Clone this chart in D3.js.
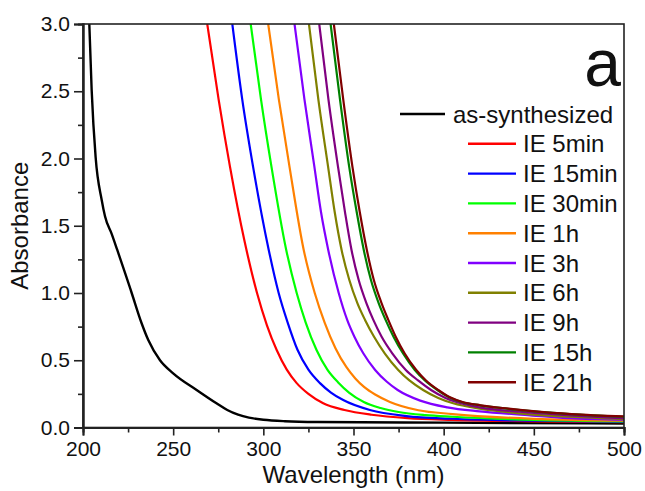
<!DOCTYPE html>
<html>
<head>
<meta charset="utf-8">
<script src="https://cdn.jsdelivr.net/npm/d3@7"></script>
<style>
  html, body { margin: 0; padding: 0; background: #fff; }
  svg { display: block; font-family: "Liberation Sans", Arial, sans-serif; }
</style>
</head>
<body>
<svg id="chart" width="645" height="491"></svg>
<script>
// ---- data (wavelength nm, absorbance) ----
const seriesNames = ["as-synthesized", "IE 5min", "IE 15min", "IE 30min", "IE 1h", "IE 3h", "IE 6h", "IE 9h", "IE 15h", "IE 21h"];
const seriesColors = ["#000000", "#ff0000", "#0000ff", "#00ff00", "#ff8000", "#8000ff", "#808000", "#800080", "#008000", "#800000"];

const asSynthesized = [[203.5,3.0],[204.8,2.51],[207.0,2.01],[210.4,1.69],[212.2,1.57],[215.9,1.44],[219.0,1.32],[223.3,1.15],[227.0,1.0],[232.5,0.775],[236.2,0.65],[242.7,0.5],[250.0,0.403],[263.0,0.279],[274.0,0.18],[280,0.13],[286,0.095],[292,0.073],[300,0.058],[312,0.047],[330,0.041],[400,0.036],[500,0.03]];
const ie5min  = [[268.9,3.0],[275.2,2.44],[281.5,1.94],[289.5,1.39],[296.5,1.0],[302,0.76],[307.4,0.576],[313,0.43],[318.5,0.33],[325,0.25],[333.2,0.18],[345,0.13],[360,0.095],[380,0.07],[405,0.057],[450,0.046],[500,0.04]];
const ie15min = [[282.8,3.0],[288.3,2.44],[294.3,1.94],[303,1.32],[308.5,1.0],[313.5,0.78],[319,0.576],[325,0.43],[331.4,0.33],[337.5,0.26],[344.3,0.204],[359.1,0.13],[379.4,0.085],[405,0.065],[450,0.05],[500,0.042]];
const ie30min = [[293.0,3.0],[298.7,2.44],[304.5,1.94],[312.7,1.32],[318.5,1.0],[323.5,0.78],[329.5,0.576],[335.5,0.43],[341.5,0.335],[347.5,0.26],[355.7,0.19],[365,0.145],[375,0.115],[390,0.092],[405,0.08],[450,0.056],[500,0.045]];
const ie1h    = [[302.7,3.0],[308.6,2.44],[314.5,1.94],[322.4,1.32],[328.5,1.0],[334,0.78],[340,0.59],[346,0.45],[351,0.365],[356,0.3],[362,0.245],[370.2,0.19],[386,0.128],[405,0.1],[450,0.064],[500,0.05]];
const ie3h    = [[317.3,3.0],[322.8,2.44],[328.3,1.94],[332.0,1.6],[336.0,1.32],[341.8,1.0],[346.5,0.8],[350.5,0.675],[355.5,0.55],[362,0.428],[368.5,0.34],[374.5,0.279],[387,0.2],[402,0.15],[420,0.12],[445,0.093],[470,0.07],[500,0.058]];
const ie6h    = [[325.3,3.0],[330.5,2.44],[335.9,1.94],[339.6,1.6],[343.4,1.32],[347.6,1.1],[352.2,0.923],[356.4,0.8],[361.4,0.675],[367.4,0.55],[374.8,0.428],[381,0.35],[388.6,0.279],[397,0.22],[405.3,0.18],[420,0.14],[442,0.105],[470,0.08],[500,0.062]];
const ie9h    = [[331.0,3.0],[336.1,2.44],[341.4,1.94],[345.3,1.6],[348.9,1.32],[352.8,1.1],[357.2,0.923],[361.0,0.8],[365.6,0.675],[371.6,0.55],[379.0,0.428],[385.8,0.35],[393,0.279],[401,0.22],[407.1,0.19],[420,0.15],[442,0.117],[470,0.09],[500,0.068]];
const ie15h   = [[337.3,3.0],[342.5,2.44],[347.6,1.94],[351.8,1.6],[355.7,1.32],[359.6,1.1],[364.0,0.923],[367.8,0.8],[372.2,0.675],[377.5,0.55],[384.0,0.428],[389.6,0.35],[396.5,0.279],[403,0.225],[410,0.19],[420,0.165],[435,0.14],[450,0.12],[470,0.1],[500,0.08]];
const ie21h   = [[339.1,3.0],[344.3,2.44],[349.4,1.94],[353.5,1.6],[357.4,1.32],[361.2,1.1],[365.6,0.923],[369.3,0.8],[373.4,0.675],[378.4,0.55],[384.8,0.428],[390.2,0.35],[397,0.279],[403.5,0.225],[410.5,0.19],[420.5,0.165],[436,0.14],[451,0.12],[471,0.1],[500,0.082]];

const xMajorTicks = [200, 250, 300, 350, 400, 450, 500];
const xTickLabels = ["200", "250", "300", "350", "400", "450", "500"];
const xMinorTicks = [225, 275, 325, 375, 425, 475];
const yMajorTicks = [0, 0.5, 1.0, 1.5, 2.0, 2.5, 3.0];
const yTickLabels = ["0.0", "0.5", "1.0", "1.5", "2.0", "2.5", "3.0"];
const yMinorTicks = [0.25, 0.75, 1.25, 1.75, 2.25, 2.75];

const allSeries = [asSynthesized, ie5min, ie15min, ie30min, ie1h, ie3h, ie6h, ie9h, ie15h, ie21h];

// ---- layout ----
const svg = d3.select("#chart");
const L = 83, R = 624, T = 24, B = 427.5;
const x = d3.scaleLinear().domain([200, 500]).range([L, R]);
const y = d3.scaleLinear().domain([0, 3]).range([B, T]);

svg.append("defs").append("clipPath").attr("id", "plotclip")
  .append("rect").attr("x", L).attr("y", T).attr("width", R - L).attr("height", B - T);

// curves
const line = d3.line().x(d => x(d[0])).y(d => y(d[1])).curve(d3.curveMonotoneX);
const gLines = svg.append("g").attr("clip-path", "url(#plotclip)");
allSeries.forEach((s, i) => {
  gLines.append("path").datum(s)
    .attr("d", line)
    .attr("fill", "none")
    .attr("stroke", seriesColors[i])
    .attr("stroke-width", i === 0 ? 2.4 : 2.2)
    .attr("stroke-linejoin", "round");
});

// frame
svg.append("rect").attr("x", L).attr("y", T).attr("width", R - L).attr("height", B - T)
  .attr("fill", "none").attr("stroke", "#222").attr("stroke-width", 1.6);

// axes
const xAxis = d3.axisBottom(x).tickValues(xMajorTicks).tickSize(8).tickPadding(6)
  .tickFormat((d, i) => xTickLabels[i]);
const gx = svg.append("g").attr("transform", `translate(0,${B})`).call(xAxis);
const gxm = svg.append("g").attr("transform", `translate(0,${B})`)
  .call(d3.axisBottom(x).tickValues(xMinorTicks).tickSize(5).tickFormat(""));
const yAxis = d3.axisLeft(y).tickValues(yMajorTicks).tickSize(9).tickPadding(4)
  .tickFormat((d, i) => yTickLabels[i]);
const gy = svg.append("g").attr("transform", `translate(${L},0)`).call(yAxis);
const gym = svg.append("g").attr("transform", `translate(${L},0)`)
  .call(d3.axisLeft(y).tickValues(yMinorTicks).tickSize(5).tickFormat(""));

[gx, gxm, gy, gym].forEach(g => {
  g.select(".domain").attr("stroke", "#222").attr("stroke-width", 2);
  g.selectAll(".tick line").attr("stroke", "#222").attr("stroke-width", 1.6);
  g.selectAll(".tick text").attr("fill", "#111").style("font-size", "21px")
    .style("font-family", "'Liberation Sans', Arial, sans-serif");
});

// axis titles
svg.append("text").attr("x", (L + R) / 2).attr("y", 483)
  .attr("text-anchor", "middle").style("font-size", "24px").attr("fill", "#111")
  .text("Wavelength (nm)");
svg.append("text").attr("transform", `translate(28,${(T + B) / 2}) rotate(-90)`)
  .attr("text-anchor", "middle").style("font-size", "24px").attr("fill", "#111")
  .text("Absorbance");

// panel letter
svg.append("text").attr("x", 621).attr("y", 86).attr("text-anchor", "end")
  .style("font-size", "66px").attr("fill", "#111").text("a");

// legend
const legY0 = 114, legDy = 29.8;
seriesNames.forEach((name, i) => {
  const ly = legY0 + i * legDy;
  const x1 = i === 0 ? 400 : 468, x2 = i === 0 ? 445 : 516, tx = i === 0 ? 453 : 523;
  svg.append("line").attr("x1", x1).attr("x2", x2).attr("y1", ly).attr("y2", ly)
    .attr("stroke", seriesColors[i]).attr("stroke-width", i === 0 ? 2.6 : 2.4);
  svg.append("text").attr("x", tx).attr("y", ly + 8.5)
    .style("font-size", "24px").attr("fill", "#111").text(name);
});
</script>
</body>
</html>
